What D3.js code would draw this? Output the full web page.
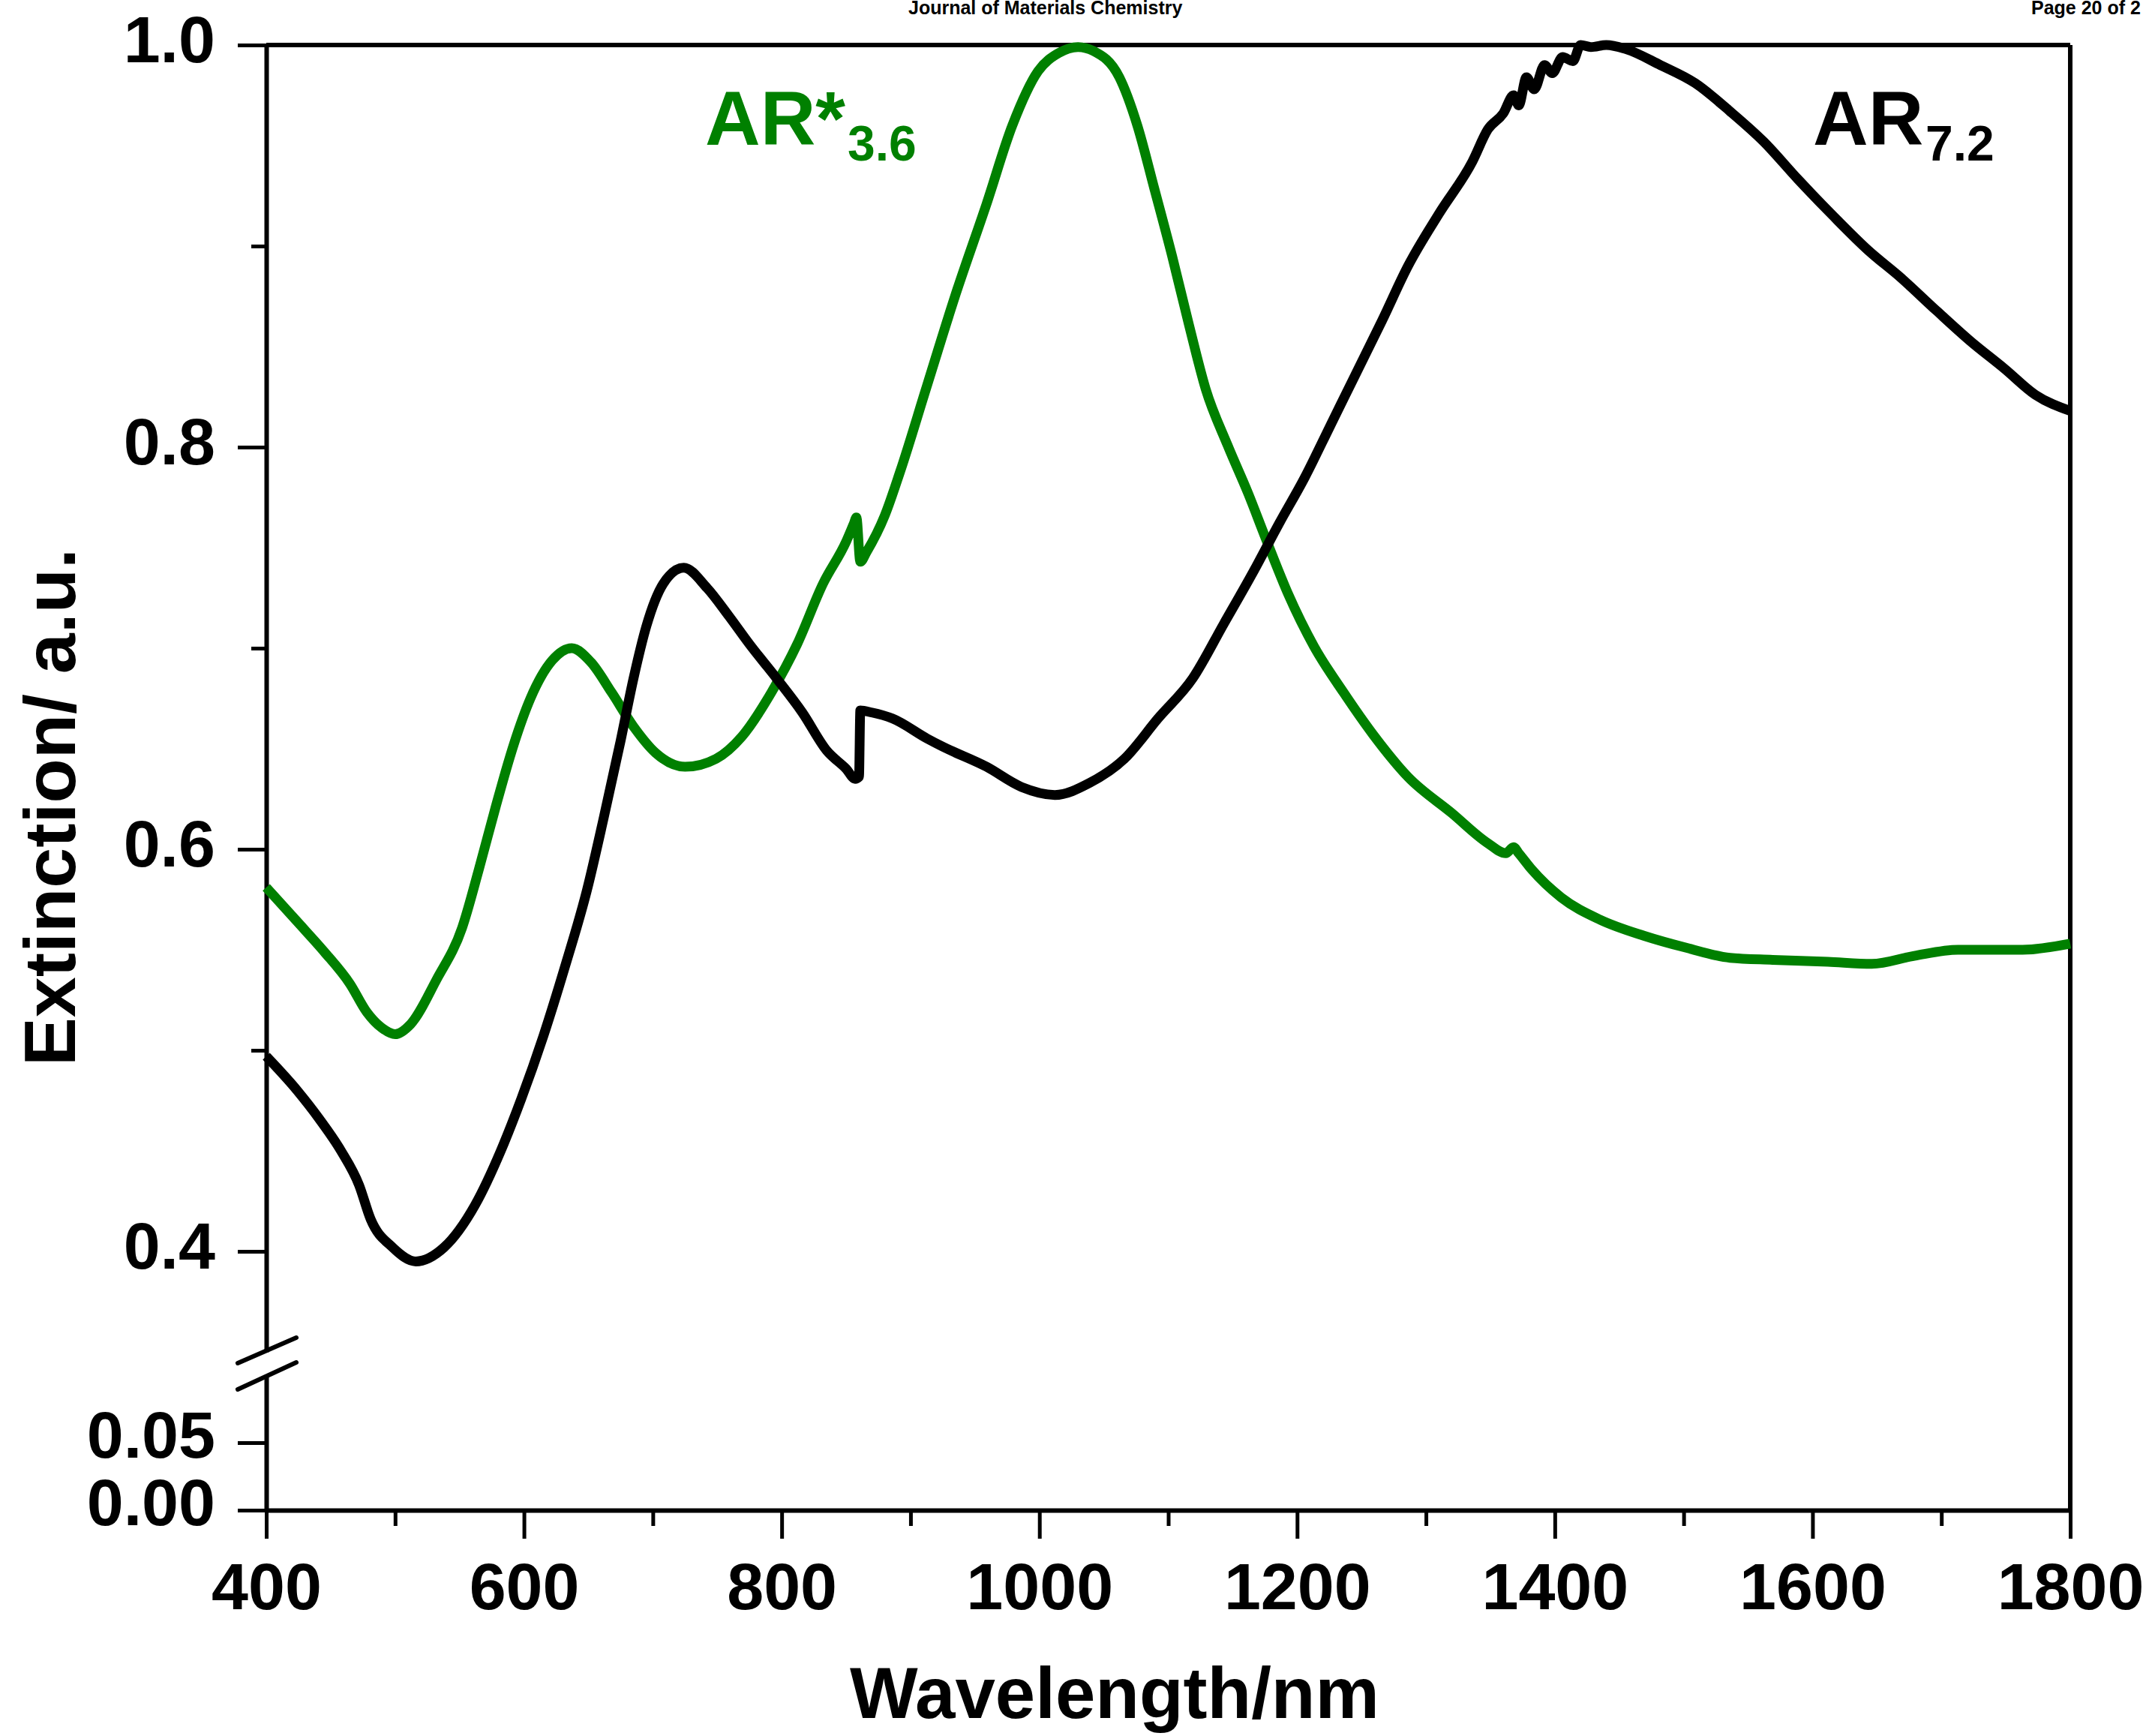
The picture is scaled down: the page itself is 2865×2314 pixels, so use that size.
<!DOCTYPE html>
<html><head><meta charset="utf-8">
<script src="https://cdn.jsdelivr.net/npm/d3@7"></script>
<style>
body{margin:0;background:#fff}
svg{display:block}
text{font-family:"Liberation Sans",Arial,sans-serif;font-weight:bold;fill:#000}
</style>
</head><body>
<svg id="c" width="2865" height="2314"></svg>
<script>
// ---- data ----
const greenNm = [400,424,445,465,478,490,500,512,532,552,565,578,592,605,622,637,652,668,685,702,725,749,769,792,812,832,850,856,858,861,866,880,892,912,935,959,979,999,1015,1030,1042,1062,1076,1089,1103,1116,1129,1146,1162,1176,1193,1213,1236,1259,1286,1320,1348,1362,1368,1372,1382,1405,1435,1469,1502,1536,1569,1612,1646,1679,1713,1763,1800];
const greenExt = [0.581,0.564,0.549,0.533,0.519,0.511,0.508,0.513,0.535,0.561,0.590,0.621,0.652,0.675,0.694,0.700,0.693,0.678,0.661,0.648,0.641,0.645,0.656,0.678,0.702,0.732,0.753,0.762,0.765,0.743,0.748,0.766,0.788,0.829,0.876,0.921,0.960,0.987,0.996,0.999,0.997,0.984,0.960,0.929,0.895,0.861,0.829,0.801,0.777,0.754,0.727,0.701,0.678,0.657,0.636,0.618,0.603,0.598,0.601,0.598,0.590,0.576,0.565,0.557,0.551,0.546,0.545,0.544,0.543,0.547,0.550,0.550,0.553];
const blackNm = [400,424,441,458,472,481,498,516,538,562,582,598,615,632,649,662,675,685,695,708,724,742,759,775,796,816,835,850,857,860,861,870,886,913,925,959,986,1012,1039,1066,1092,1119,1143,1166,1186,1206,1226,1246,1266,1286,1310,1336,1348,1360,1368,1372,1378,1384,1392,1398,1406,1414,1420,1428,1440,1455,1482,1509,1536,1562,1589,1616,1643,1669,1696,1722,1749,1773,1800];
const blackExt = [0.497,0.480,0.466,0.450,0.433,0.416,0.402,0.395,0.402,0.423,0.450,0.476,0.507,0.542,0.580,0.616,0.654,0.685,0.711,0.732,0.740,0.730,0.716,0.702,0.685,0.668,0.649,0.640,0.635,0.636,0.669,0.668,0.665,0.655,0.651,0.641,0.631,0.627,0.633,0.645,0.665,0.685,0.712,0.738,0.762,0.785,0.811,0.837,0.863,0.890,0.916,0.942,0.958,0.966,0.975,0.970,0.984,0.978,0.990,0.986,0.994,0.992,1.000,0.999,1.000,0.998,0.990,0.981,0.967,0.952,0.933,0.915,0.898,0.884,0.868,0.853,0.839,0.826,0.818];
const xTicks = [400,600,800,1000,1200,1400,1600,1800];
const xMinor = [500,700,900,1100,1300,1500,1700];
const yUpperTicks = [0.4,0.6,0.8,1.0];
const yUpperMinor = [0.5,0.7,0.9];
const yLowerTicks = [0.00,0.05];

const svg = d3.select("#c");
const x = d3.scaleLinear().domain([400,1800]).range([355,2760]);
const yU = d3.scaleLinear().domain([0.35,1.0]).range([1802,60]);
const yL = d3.scaleLinear().domain([0,0.1]).range([2013,1833]);

function styleAxis(g, fs){
  g.selectAll(".domain").attr("stroke","#000").attr("stroke-width",6);
  g.selectAll(".tick line").attr("stroke","#000").attr("stroke-width",5);
  g.selectAll("text").attr("font-size",fs).attr("font-family",'"Liberation Sans",Arial,sans-serif').attr("font-weight","bold").attr("fill","#000");
}

// header
svg.append("text").attr("x",1211).attr("y",19).attr("font-size",25).text("Journal of Materials Chemistry");
svg.append("text").attr("x",2708).attr("y",19).attr("font-size",25).text("Page 20 of 2");

// frame top and right
svg.append("line").attr("x1",x(400)).attr("x2",x(1800)).attr("y1",yU(1.0)).attr("y2",yU(1.0)).attr("stroke","#000").attr("stroke-width",6);
svg.append("line").attr("x1",x(1800)).attr("x2",x(1800)).attr("y1",yU(1.0)).attr("y2",yL(0)).attr("stroke","#000").attr("stroke-width",6);

// x axis
const gx = svg.append("g").attr("transform",`translate(0,${yL(0)})`)
  .call(d3.axisBottom(x).tickValues(xTicks).tickSize(38).tickSizeOuter(0).tickPadding(32).tickFormat(d3.format("d")));
styleAxis(gx,88);
const gxm = svg.append("g").attr("transform",`translate(0,${yL(0)})`)
  .call(d3.axisBottom(x).tickValues(xMinor).tickSize(21).tickFormat(""));
gxm.select(".domain").remove(); styleAxis(gxm,88);

// y upper
const gyu = svg.append("g").attr("transform",`translate(${x(400)},0)`)
  .call(d3.axisLeft(yU).tickValues(yUpperTicks).tickSize(38).tickSizeOuter(0).tickPadding(30).tickFormat(d3.format(".1f")));
styleAxis(gyu,88); gyu.selectAll("text").attr("dy","0.25em");
const gyum = svg.append("g").attr("transform",`translate(${x(400)},0)`)
  .call(d3.axisLeft(yU).tickValues(yUpperMinor).tickSize(20).tickFormat(""));
gyum.select(".domain").remove(); styleAxis(gyum,88);

// y lower
const gyl = svg.append("g").attr("transform",`translate(${x(400)},0)`)
  .call(d3.axisLeft(yL).tickValues(yLowerTicks).tickSize(38).tickSizeOuter(0).tickPadding(30).tickFormat(d3.format(".2f")));
styleAxis(gyl,88); gyl.selectAll("text").attr("dy","0.22em");

// break marks
[[1817,1783],[1852,1816]].forEach(([a,b])=>{
  svg.append("line").attr("x1",317).attr("y1",a).attr("x2",395).attr("y2",b)
    .attr("stroke","#000").attr("stroke-width",6).attr("stroke-linecap","round");
});

// curves
const line = d3.line().curve(d3.curveMonotoneX).x(d=>x(d[0])).y(d=>yU(d[1]));
svg.append("path").datum(greenNm.map((n,i)=>[n,greenExt[i]]))
  .attr("d",line).attr("fill","none").attr("stroke","#008000").attr("stroke-width",13).attr("stroke-linejoin","round");
svg.append("path").datum(blackNm.map((n,i)=>[n,blackExt[i]]))
  .attr("d",line).attr("fill","none").attr("stroke","#000").attr("stroke-width",13).attr("stroke-linejoin","round");

// series labels
svg.append("text").attr("x",940).attr("y",193).attr("font-size",102).style("fill","#008000").text("AR*");
svg.append("text").attr("x",1130).attr("y",214).attr("font-size",66).style("fill","#008000").text("3.6");
svg.append("text").attr("x",2417).attr("y",193).attr("font-size",102).text("AR");
svg.append("text").attr("x",2567).attr("y",214).attr("font-size",66).text("7.2");

// axis titles
svg.append("text").attr("x",1133).attr("y",2290).attr("font-size",96).text("Wavelength/nm");
svg.append("text").attr("transform","translate(100,1076) rotate(-90)").attr("text-anchor","middle").attr("font-size",97).text("Extinction/ a.u.");
</script>
</body></html>
